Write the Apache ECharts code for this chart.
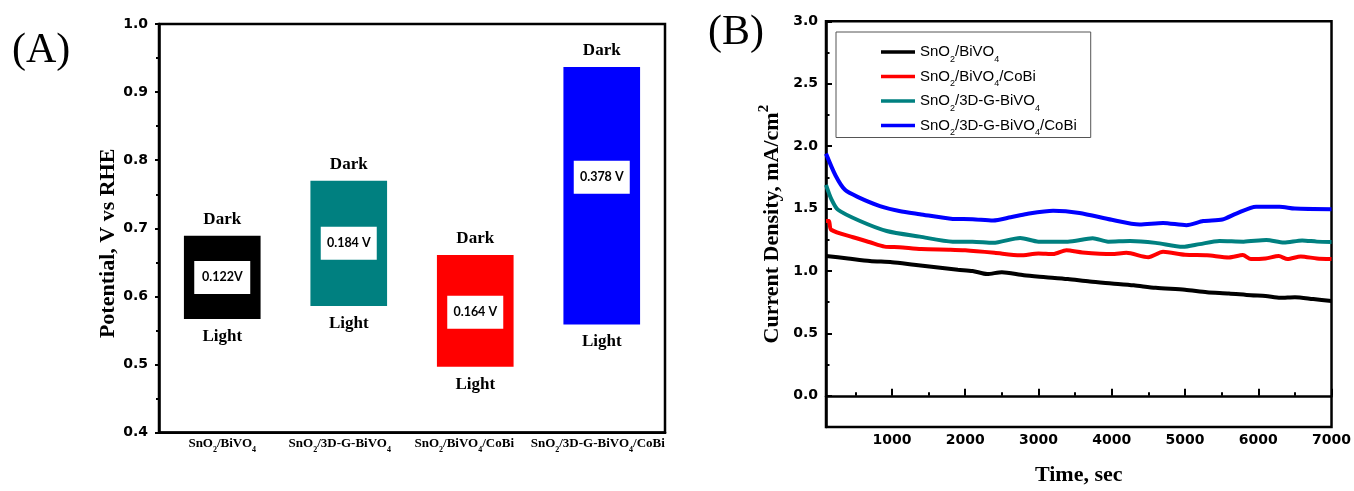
<!DOCTYPE html>
<html><head><meta charset="utf-8">
<script src="https://cdn.jsdelivr.net/npm/echarts@6/dist/echarts.min.js"></script>
<style>html,body{margin:0;padding:0;background:#fff}#c{width:1354px;height:491px}</style>
</head><body><div id="c"></div>
<script>
// ---------- Panel A data ----------
const categories = ['SnO2/BiVO4', 'SnO2/3D-G-BiVO4', 'SnO2/BiVO4/CoBi', 'SnO2/3D-G-BiVO4/CoBi'];
const lightPotential = [0.567, 0.586, 0.497, 0.559];
const darkPotential  = [0.689, 0.770, 0.661, 0.937];
const gapText        = ['0.122V', '0.184 V', '0.164 V', '0.378 V'];
const gapTextAt      = [0.628, 0.678, 0.577, 0.775];

// ---------- Panel B data ----------
const seriesNames = ['SnO2/BiVO4', 'SnO2/BiVO4/CoBi', 'SnO2/3D-G-BiVO4', 'SnO2/3D-G-BiVO4/CoBi'];
const bivo4 = [[100,1.12],[400,1.10],[700,1.08],[1000,1.07],[1300,1.05],[1600,1.03],[1900,1.01],[2100,1.00],[2300,0.975],[2500,0.99],[2800,0.965],[3100,0.95],[3400,0.935],[3700,0.915],[4000,0.90],[4300,0.885],[4600,0.865],[5000,0.85],[5300,0.83],[5600,0.82],[5900,0.805],[6100,0.80],[6300,0.785],[6500,0.79],[6750,0.775],[7000,0.76]];
const bivo4CoBi = [[100,1.40],[140,1.40],[170,1.33],[470,1.27],[700,1.23],[900,1.195],[1100,1.19],[1400,1.175],[1800,1.17],[2000,1.165],[2400,1.145],[2750,1.125],[3000,1.14],[3200,1.135],[3380,1.165],[3600,1.148],[4000,1.135],[4200,1.145],[4500,1.11],[4700,1.153],[5000,1.13],[5300,1.125],[5600,1.108],[5790,1.127],[5900,1.095],[6100,1.10],[6280,1.119],[6400,1.095],[6580,1.116],[6800,1.10],[7000,1.095]];
const gBivo4 = [[100,1.69],[170,1.58],[264,1.49],[564,1.40],[928,1.32],[1380,1.275],[1830,1.235],[2100,1.235],[2380,1.225],[2750,1.265],[3000,1.235],[3400,1.235],[3740,1.262],[3950,1.235],[4250,1.24],[4600,1.225],[4970,1.193],[5200,1.215],[5470,1.24],[5800,1.235],[6110,1.248],[6350,1.227],[6600,1.245],[6800,1.235],[7000,1.232]];
const gBivo4CoBi = [[100,1.94],[230,1.765],[359,1.65],[545,1.59],[836,1.52],[1100,1.48],[1380,1.455],[1830,1.417],[2100,1.415],[2380,1.404],[2620,1.43],[2840,1.457],[3200,1.483],[3560,1.465],[4000,1.41],[4380,1.372],[4700,1.385],[5020,1.367],[5250,1.40],[5510,1.412],[5700,1.46],[5970,1.515],[6290,1.515],[6500,1.50],[7000,1.495]];
const timeTicks = [1000, 2000, 3000, 4000, 5000, 6000, 7000];
const timeMinorTicks = [500, 1500, 2500, 3500, 4500, 5500, 6500];
const currentTicks = [0, 0.5, 1.0, 1.5, 2.0, 2.5, 3.0];
const currentMinorTicks = [0.25, 0.75, 1.25, 1.75, 2.25, 2.75];

// ---------- styles ----------
const barColors = ['#000000', '#008080', '#ff0000', '#0000ff'];
const lineColors = ['#000000', '#ff0000', '#008080', '#0000ff'];
const catLabelPadRight = [0, 18, 22, 8]; // visual nudge of axis labels (style only)
const SERIF = 'Liberation Serif';
const TICKFONT = 'DejaVu Sans';

function chem(name) {
  let out = '', buf = '';
  for (let i = 0; i < name.length; i++) {
    const ch = name[i];
    if (/\d/.test(ch) && i > 0 && name[i - 1] === 'O') {
      if (buf) out += '{n|' + buf + '}';
      buf = '';
      out += '{s|' + ch + '}';
    } else buf += ch;
  }
  if (buf) out += '{n|' + buf + '}';
  return out;
}

const chart = echarts.init(document.getElementById('c'), null, {renderer: 'canvas'});

const option = {
  animation: false,
  backgroundColor: '#fff',
  grid: [
    {left: 159, top: 24, width: 506, height: 408.7, show: true, borderColor: '#000', borderWidth: 2.5, backgroundColor: 'transparent'},
    {left: 826, top: 21.3, width: 506, height: 410.4, show: true, borderColor: '#000', borderWidth: 2.5, backgroundColor: 'transparent'}
  ],
  graphic: [
    {type: 'text', left: 12, top: 30, style: {text: '(A)', font: '42px "Liberation Serif"', fill: '#000'}},
    {type: 'text', left: 708, top: 12, style: {text: '(B)', font: '42px "Liberation Serif"', fill: '#000'}}
  ],
  legend: {
    data: seriesNames,
    orient: 'vertical',
    left: 836, top: 32,
    padding: [12.5, 14, 0, 45],
    itemGap: 5,
    itemWidth: 34, itemHeight: 3.5,
    icon: 'rect',
    borderColor: '#555', borderWidth: 1,
    backgroundColor: '#fff',
    formatter: name => chem(name),
    textStyle: {
      color: '#000',
      rich: {
        n: {fontFamily: 'Liberation Sans', fontSize: 15, lineHeight: 24, color: '#000'},
        s: {fontFamily: 'Liberation Sans', fontSize: 9, lineHeight: 9, verticalAlign: 'bottom', color: '#000'}
      }
    }
  },
  xAxis: [
    {
      type: 'category', gridIndex: 0,
      data: categories.map((c, i) => ({value: c, textStyle: {padding: [0, catLabelPadRight[i], 0, 0]}})),
      axisLine: {lineStyle: {color: '#000', width: 2.5}},
      axisTick: {inside: true, length: 4, lineStyle: {color: '#000', width: 1.5}},
      axisLabel: {
        interval: 0, hideOverlap: false,
        margin: 1, formatter: v => chem(v),
        rich: {
          n: {fontFamily: SERIF, fontWeight: 'bold', fontSize: 13, lineHeight: 20, color: '#000'},
          s: {fontFamily: SERIF, fontWeight: 'bold', fontSize: 8, lineHeight: 8, verticalAlign: 'bottom', color: '#000'}
        }
      },
      splitLine: {show: false}
    },
    {
      type: 'category', gridIndex: 0, data: categories, position: 'bottom',
      axisLine: {show: false},
      axisTick: {inside: true, alignWithLabel: true, length: 4, lineStyle: {color: '#000', width: 1.5}},
      axisLabel: {show: false}, splitLine: {show: false}
    },
    {
      type: 'value', gridIndex: 1, min: 100, max: 7000, position: 'bottom',
      name: 'Time, sec', nameLocation: 'middle', nameGap: 37,
      nameTextStyle: {fontFamily: SERIF, fontWeight: 'bold', fontSize: 22, color: '#000', lineHeight: 22},
      axisLine: {lineStyle: {color: '#000', width: 2.5}},
      axisTick: {inside: true, length: 7, customValues: timeTicks, lineStyle: {color: '#000', width: 2}},
      axisLabel: {customValues: timeTicks, margin: 6, fontFamily: TICKFONT, fontWeight: 'bold', fontSize: 14, color: '#000', formatter: v => String(v)},
      splitLine: {show: false}
    },
    {
      type: 'value', gridIndex: 1, min: 100, max: 7000, position: 'bottom',
      axisLine: {show: false},
      axisTick: {inside: true, length: 3.5, customValues: timeMinorTicks, lineStyle: {color: '#000', width: 2}},
      axisLabel: {show: false}, splitLine: {show: false}
    }
  ],
  yAxis: [
    {
      type: 'value', gridIndex: 0, min: 0.4, max: 1.0, interval: 0.1,
      name: 'Potential, V vs RHE', nameLocation: 'middle', nameGap: 37,
      nameTextStyle: {fontFamily: SERIF, fontWeight: 'bold', fontSize: 22, lineHeight: 22, color: '#000', padding: [0, 30, 0, 0]},
      axisLine: {show: true, lineStyle: {color: '#000', width: 2.5}},
      axisTick: {show: true, inside: false, length: 4, lineStyle: {color: '#000', width: 2}},
      minorTick: {show: true, splitNumber: 2, length: 3, lineStyle: {color: '#000', width: 2}},
      axisLabel: {margin: 11, fontFamily: TICKFONT, fontWeight: 'bold', fontSize: 14, color: '#000', formatter: v => v.toFixed(1)},
      splitLine: {show: false}
    },
    {
      type: 'value', gridIndex: 1, min: -0.25, max: 3.0,
      name: '{n|Current Density, mA/cm}{p|2}', nameLocation: 'middle', nameGap: 39,
      nameTextStyle: {
        color: '#000',
        rich: {
          n: {fontFamily: SERIF, fontWeight: 'bold', fontSize: 22, lineHeight: 30, color: '#000'},
          p: {fontFamily: SERIF, fontWeight: 'bold', fontSize: 15, lineHeight: 15, verticalAlign: 'top', color: '#000'}
        }
      },
      axisLine: {show: true, lineStyle: {color: '#000', width: 2.5}},
      axisTick: {show: true, inside: true, length: 6, customValues: currentTicks, lineStyle: {color: '#000', width: 2}},
      axisLabel: {customValues: currentTicks, margin: 8, fontFamily: TICKFONT, fontWeight: 'bold', fontSize: 14, color: '#000', formatter: v => v.toFixed(1)},
      splitLine: {show: false}
    },
    {
      type: 'value', gridIndex: 1, min: -0.25, max: 3.0, position: 'left',
      axisLine: {show: false},
      axisTick: {show: true, inside: true, length: 3.5, customValues: currentMinorTicks, lineStyle: {color: '#000', width: 2}},
      axisLabel: {show: false}, splitLine: {show: false}
    }
  ],
  series: [
    {
      type: 'bar', xAxisIndex: 0, yAxisIndex: 0, stack: 'gap', barWidth: '60.6%',
      data: lightPotential,
      itemStyle: {color: 'rgba(0,0,0,0)'},
      label: {show: true, position: 'insideTop', distance: 9, formatter: 'Light',
        fontFamily: SERIF, fontWeight: 'bold', fontSize: 17, color: '#000'},
      z: 3
    },
    {
      type: 'bar', xAxisIndex: 0, yAxisIndex: 0, stack: 'gap', barWidth: '60.6%',
      data: darkPotential.map((d, i) => +(d - lightPotential[i]).toFixed(4)),
      itemStyle: {color: p => barColors[p.dataIndex]},
      label: {show: true, position: 'top', distance: 8, formatter: 'Dark',
        fontFamily: SERIF, fontWeight: 'bold', fontSize: 17, color: '#000'},
      z: 2
    },
    {
      type: 'scatter', xAxisIndex: 0, yAxisIndex: 0,
      data: gapTextAt,
      symbol: 'rect', symbolSize: [56, 33],
      itemStyle: {color: '#fff', opacity: 1},
      label: {show: true, position: 'inside', formatter: p => gapText[p.dataIndex],
        fontFamily: 'Lato', fontWeight: 'bold', fontSize: 12.5, color: '#000'},
      z: 5
    },
    ...[bivo4, bivo4CoBi, gBivo4, gBivo4CoBi].map((d, i) => ({
      type: 'line', name: seriesNames[i], xAxisIndex: 2, yAxisIndex: 1,
      data: d, showSymbol: false, smooth: 0.25,
      lineStyle: {color: lineColors[i], width: 4},
      itemStyle: {color: lineColors[i]},
      z: 3
    }))
  ]
};
chart.setOption(option);
</script></body></html>
